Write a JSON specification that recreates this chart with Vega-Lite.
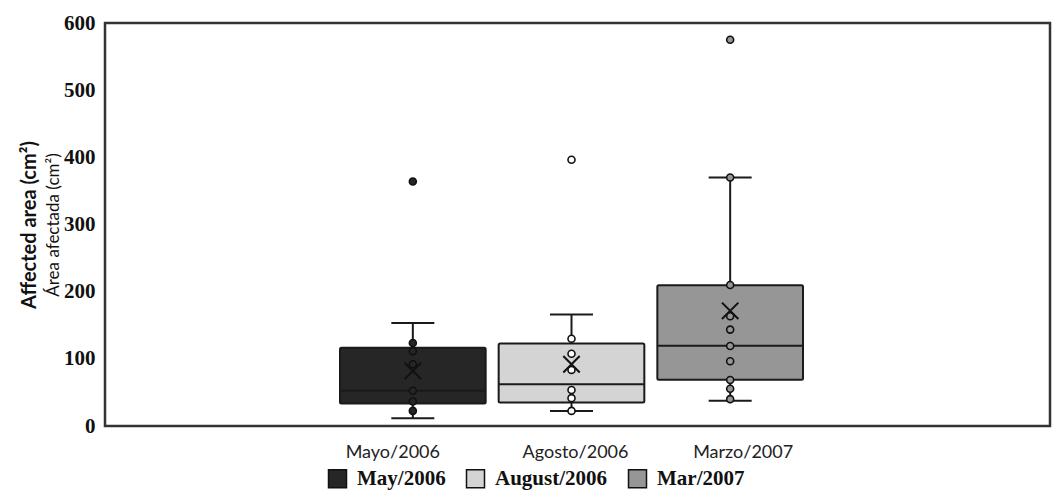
{
  "$schema": "https://vega.github.io/schema/vega-lite/v6.json",
  "width": 945,
  "height": 403,
  "autosize": {"type": "none"},
  "padding": {"left": 105, "top": 23, "right": 6, "bottom": 69},
  "background": "white",
  "config": {
    "view": {"stroke": "#333333", "strokeWidth": 2.5},
    "axis": {"grid": false}
  },
  "datasets": {
    "summary": [
      {"grupo": "Mayo/2006", "serie": "May/2006", "lower": 11.5, "q1": 33.5, "median": 52.5, "q3": 116.5, "upper": 153.5, "mean": 82},
      {"grupo": "Agosto/2006", "serie": "August/2006", "lower": 22.5, "q1": 35, "median": 62, "q3": 123, "upper": 166, "mean": 92},
      {"grupo": "Marzo/2007", "serie": "Mar/2007", "lower": 37.5, "q1": 69, "median": 119.5, "q3": 209.5, "upper": 370, "mean": 171.5}
    ],
    "points": [
      {"grupo": "Mayo/2006", "serie": "May/2006", "value": 364},
      {"grupo": "Mayo/2006", "serie": "May/2006", "value": 123.5},
      {"grupo": "Mayo/2006", "serie": "May/2006", "value": 111.5},
      {"grupo": "Mayo/2006", "serie": "May/2006", "value": 92},
      {"grupo": "Mayo/2006", "serie": "May/2006", "value": 52.5},
      {"grupo": "Mayo/2006", "serie": "May/2006", "value": 36.5},
      {"grupo": "Mayo/2006", "serie": "May/2006", "value": 22.5},
      {"grupo": "Agosto/2006", "serie": "August/2006", "value": 396.5},
      {"grupo": "Agosto/2006", "serie": "August/2006", "value": 130},
      {"grupo": "Agosto/2006", "serie": "August/2006", "value": 107.5},
      {"grupo": "Agosto/2006", "serie": "August/2006", "value": 83.5},
      {"grupo": "Agosto/2006", "serie": "August/2006", "value": 53.5},
      {"grupo": "Agosto/2006", "serie": "August/2006", "value": 41.5},
      {"grupo": "Agosto/2006", "serie": "August/2006", "value": 22.5},
      {"grupo": "Marzo/2007", "serie": "Mar/2007", "value": 575},
      {"grupo": "Marzo/2007", "serie": "Mar/2007", "value": 370},
      {"grupo": "Marzo/2007", "serie": "Mar/2007", "value": 210},
      {"grupo": "Marzo/2007", "serie": "Mar/2007", "value": 163.5},
      {"grupo": "Marzo/2007", "serie": "Mar/2007", "value": 143.5},
      {"grupo": "Marzo/2007", "serie": "Mar/2007", "value": 119},
      {"grupo": "Marzo/2007", "serie": "Mar/2007", "value": 96.5},
      {"grupo": "Marzo/2007", "serie": "Mar/2007", "value": 68.5},
      {"grupo": "Marzo/2007", "serie": "Mar/2007", "value": 55.5},
      {"grupo": "Marzo/2007", "serie": "Mar/2007", "value": 40}
    ]
  },
  "encoding": {
    "x": {
      "field": "grupo",
      "type": "nominal",
      "sort": ["Mayo/2006", "Agosto/2006", "Marzo/2007"],
      "scale": {"type": "band", "range": [235, 698], "paddingInner": 0.082, "paddingOuter": 0},
      "axis": {
        "title": null,
        "ticks": false,
        "domain": false,
        "labelAngle": 0,
        "labelFont": "Lato",
        "labelFontSize": 18,
        "labelColor": "#222",
        "labelPadding": 17,
        "labelOffset": {
          "condition": [
            {"test": "datum.value == 'Mayo/2006'", "value": -20},
            {"test": "datum.value == 'Marzo/2007'", "value": 13}
          ],
          "value": 4
        }
      }
    }
  },
  "layer": [
    {
      "layer": [
        {
          "data": {"name": "summary"},
          "mark": {"type": "rule", "stroke": "#1a1a1a", "strokeWidth": 2},
          "encoding": {
            "y": {
              "field": "lower",
              "type": "quantitative",
              "scale": {"domain": [0, 600], "nice": false, "zero": true},
              "axis": {
                "values": [0, 100, 200, 300, 400, 500, 600],
                "domain": false,
                "ticks": false,
                "labelFont": "Liberation Serif",
                "labelFontWeight": "bold",
                "labelFontSize": 21,
                "labelColor": "#111",
                "labelPadding": 10,
                "title": "Área afectada (cm²)",
                "titleFont": "Lato",
                "titleFontWeight": "normal",
                "titleFontSize": 17,
                "titleColor": "#111",
                "titlePadding": 1
              }
            },
            "y2": {"field": "upper"}
          }
        },
        {
          "data": {"name": "summary"},
          "mark": {"type": "tick", "color": "#1a1a1a", "size": 43, "thickness": 2, "opacity": 1},
          "encoding": {"y": {"field": "lower", "type": "quantitative"}}
        },
        {
          "data": {"name": "summary"},
          "mark": {"type": "tick", "color": "#1a1a1a", "size": 43, "thickness": 2, "opacity": 1},
          "encoding": {"y": {"field": "upper", "type": "quantitative"}}
        },
        {
          "data": {"name": "summary"},
          "mark": {"type": "bar", "stroke": "#1a1a1a", "strokeWidth": 2, "cornerRadius": 1.5, "opacity": 1},
          "encoding": {
            "y": {"field": "q1", "type": "quantitative"},
            "y2": {"field": "q3"},
            "fill": {
              "field": "serie",
              "type": "nominal",
              "scale": {"domain": ["May/2006", "August/2006", "Mar/2007"], "range": ["#262626", "#d4d4d4", "#969696"]},
              "legend": {
                "orient": "none",
                "direction": "horizontal",
                "legendX": 222,
                "legendY": 445,
                "title": null,
                "symbolType": "square",
                "symbolSize": 324,
                "symbolStrokeColor": "#111",
                "symbolStrokeWidth": 1.5,
                "symbolOpacity": 1,
                "labelFont": "Liberation Serif",
                "labelFontWeight": "bold",
                "labelFontSize": 21,
                "labelColor": "#111",
                "labelOffset": 9,
                "columnPadding": 17
              }
            }
          }
        },
        {
          "data": {"name": "summary"},
          "mark": {"type": "tick", "color": "#1a1a1a", "thickness": 2, "size": 145, "opacity": 1},
          "encoding": {"y": {"field": "median", "type": "quantitative"}}
        },
        {
          "data": {"name": "points"},
          "mark": {"type": "point", "shape": "circle", "filled": true, "size": 49, "stroke": "#111", "strokeWidth": 1.6, "opacity": 1},
          "encoding": {
            "y": {"field": "value", "type": "quantitative"},
            "color": {
              "field": "serie",
              "type": "nominal",
              "scale": {"domain": ["May/2006", "August/2006", "Mar/2007"], "range": ["#262626", "#ffffff", "#969696"]},
              "legend": null
            }
          }
        }
      ]
    },
    {
      "data": {"name": "summary"},
      "mark": {"type": "point", "shape": "M-1,-1L1,1M-1,1L1,-1", "filled": false, "size": 270, "stroke": "#111", "strokeWidth": 2, "opacity": 1},
      "encoding": {
        "y": {
          "field": "mean",
          "type": "quantitative",
          "scale": {"domain": [0, 600], "nice": false, "zero": true},
          "axis": {
            "orient": "left",
            "labels": false,
            "ticks": false,
            "domain": false,
            "title": "Affected area (cm²)",
            "titleFont": "Lato",
            "titleFontWeight": "bold",
            "titleFontSize": 20,
            "titleColor": "#111",
            "titlePadding": 66
          }
        }
      }
    }
  ],
  "resolve": {"scale": {"y": "independent"}}
}
